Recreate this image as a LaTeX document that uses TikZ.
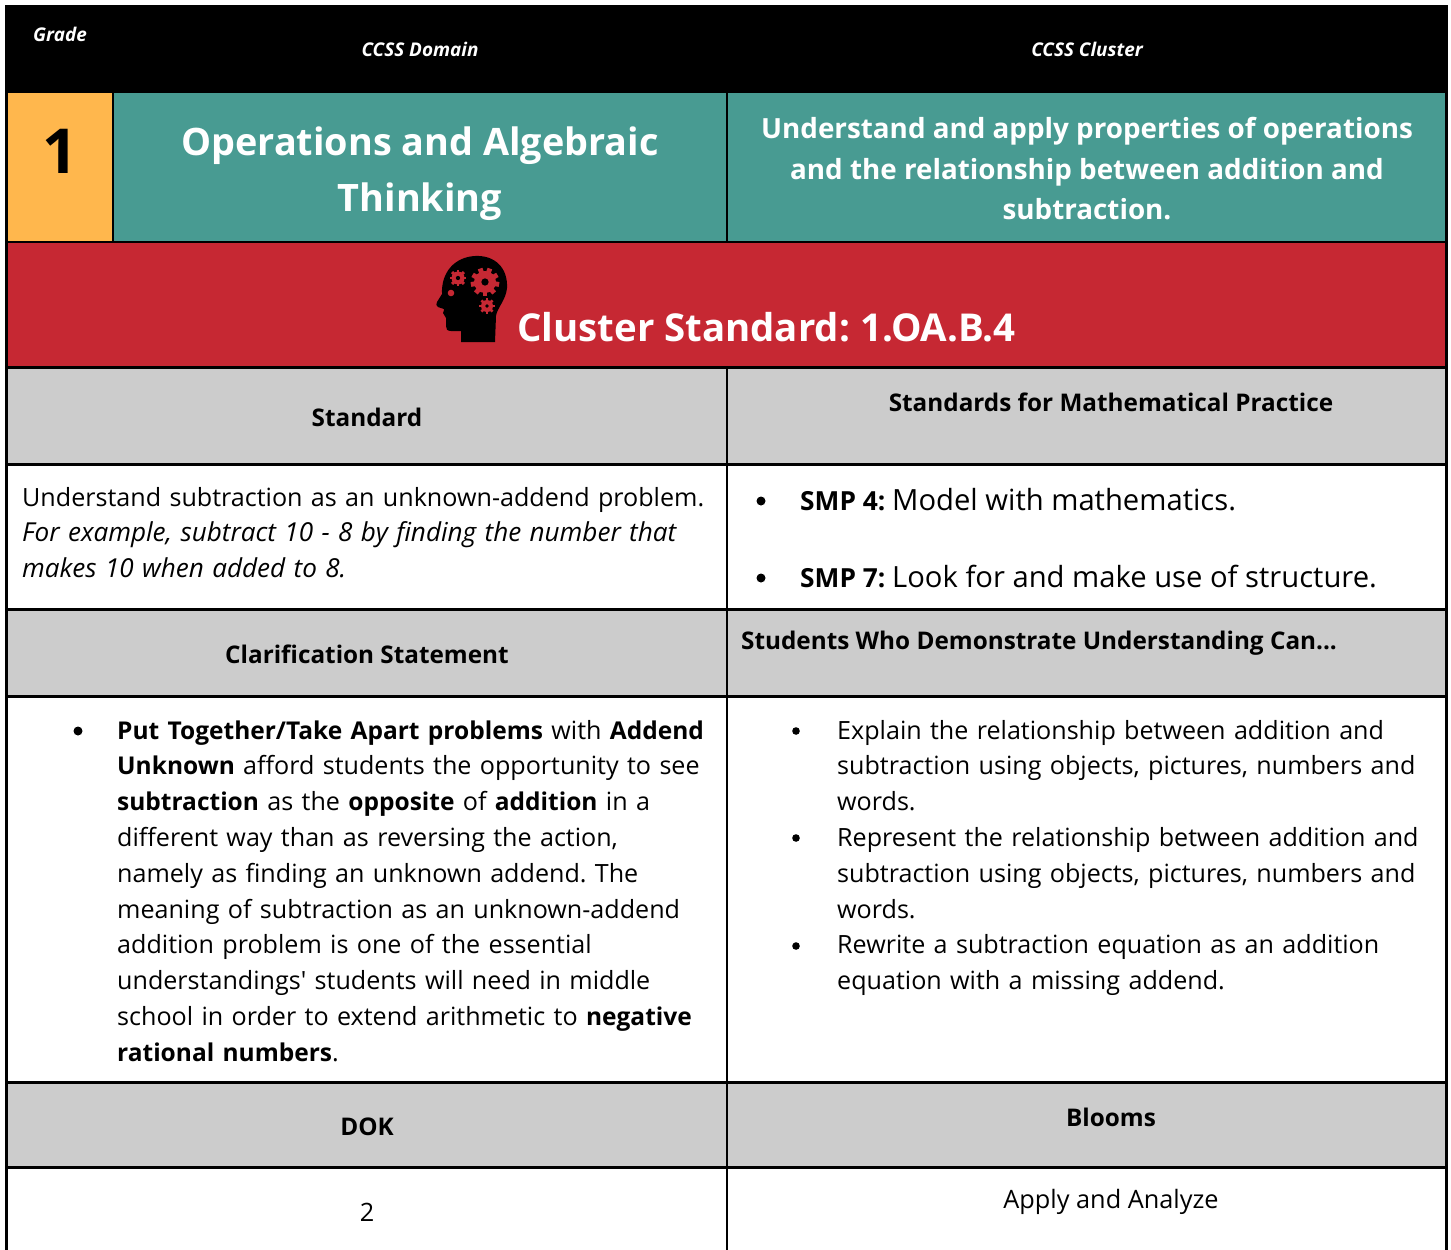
\documentclass[tikz,border=0pt]{standalone}
\usepackage{fontspec}
\setmainfont{Open Sans}
\definecolor{orangeC}{HTML}{FFB74D}
\definecolor{tealC}{HTML}{489B92}
\definecolor{redC}{HTML}{C62833}
\definecolor{grayC}{HTML}{CCCCCC}
\newcommand\fs[2]{\fontsize{#1}{#2}\selectfont}
\newcommand\bw[1]{{\fontsize{24.5}{35.8}\selectfont\bfseries #1}}
\newcommand\mygear[4]{%
  \begin{scope}[shift={(#1,#2)}]
    \foreach \k in {1,...,#4}{\fill[redC,rotate=\k*360/#4] (-0.22*#3,0) rectangle (0.22*#3,1.3*#3);}
    \fill[redC] (0,0) circle[radius=#3pt];
    \fill[black] (0,0) circle[radius=0.33*#3pt];
  \end{scope}}
\frenchspacing
\begin{document}
\frenchspacing
\begin{tikzpicture}[x=1pt,y=-1pt,
  hdr/.style={font=\fs{18.9}{22}\bfseries\itshape, text=white, inner sep=0},
  body/.style={font=\fs{25.1}{35.8}\frenchspacing, align=left, inner sep=0, anchor=base west, text width=#1},
  body/.default=700pt,
  ghead/.style={font=\fs{24.3}{28}\bfseries, inner sep=0},
  rulel/.style={line width=3pt, black},
  ruled/.style={line width=2pt, black},
  bul/.style={fill=black},
]
\useasboundingbox (0,0) rectangle (1451,1250);
\fill[white] (0,0) rectangle (1451,1250);
% backgrounds
\fill[black] (5,5) rectangle (1448,93);
\fill[orangeC] (7,93) rectangle (113,242);
\fill[tealC] (113,93) rectangle (1447,242);
\fill[redC] (7,242) rectangle (1447,367);
\fill[grayC] (7,367) rectangle (1447,464.5);
\fill[grayC] (7,609.5) rectangle (1447,696.5);
\fill[grayC] (7,1082.5) rectangle (1447,1167.5);
% rules
\draw[ruled] (5,242) -- (1448,242);
\draw[rulel] (5,367) -- (1448,367);
\draw[rulel] (5,464.5) -- (1448,464.5);
\draw[rulel] (5,609.5) -- (1448,609.5);
\draw[rulel] (5,696.5) -- (1448,696.5);
\draw[rulel] (5,1082.5) -- (1448,1082.5);
\draw[rulel] (5,1167.5) -- (1448,1167.5);
\draw[rulel] (6.5,93) -- (6.5,1250);
\draw[rulel] (1446.5,93) -- (1446.5,1250);
\draw[ruled] (113,93) -- (113,242);
\draw[ruled] (727,93) -- (727,242);
\draw[ruled] (727,367) -- (727,1250);
% header row
\node[hdr] (grade) at (60,34) {Grade};
\node[hdr] (domainlbl) at (420,49) {CCSS Domain};
\node[hdr] (clusterlbl) at (1087,49) {CCSS Cluster};
% teal row
\node[font=\fs{62}{70}\bfseries, inner sep=0] (gradenum) at (60,151) {1};
\node[font=\fs{37.8}{56}\bfseries, text=white, align=center, inner sep=0] (domain) at (420,174) {Operations and Algebraic\\Thinking};
\node[font=\fs{27.8}{40.5}\bfseries, text=white, align=center, inner sep=0] (cluster) at (1087,169) {Understand and apply properties of operations\\and the relationship between addition and\\subtraction.};
% red row icon
\fill[black] (461,342) -- (461,331) -- (451,331) .. controls (447,331) and (446,329) .. (446,326)
  -- (446,318) .. controls (446,316) and (443,315) .. (443,313) .. controls (443,311) and (445,310) .. (444,309)
  -- (438,307) .. controls (436,306) and (436,304) .. (437,302) -- (442,294)
  .. controls (441,272) and (455,257) .. (475,256) .. controls (495,255) and (508,268) .. (507,288)
  .. controls (506,300) and (497,308) .. (496,316) -- (495,342) -- cycle;
\mygear{458}{278}{6.5}{8}
\mygear{485}{282}{11}{9}
\mygear{487}{306}{6}{8}
\fill[redC] (451,293) circle[radius=3.3pt];
\node[font=\fs{38.4}{46}\bfseries, text=white, anchor=west, inner sep=0] (clusterstd) at (517,327) {Cluster Standard: 1.OA.B.4};
% gray row 1
\node[ghead] (stdhead) at (367,417) {Standard};
\node[ghead] (smphead) at (1111,402) {Standards for Mathematical Practice};
% white row 1
\node[body] (stdtext) at (22,506) {Understand subtraction as an unknown-addend problem.\\{\fs{26.1}{35.8}\itshape For example, subtract 10 - 8 by finding the number that\\makes 10 when added to 8.}};
\fill[bul] (761,501) circle[radius=4.5pt];
\fill[bul] (761,578) circle[radius=4.5pt];
\node[font=\fs{26.3}{30}, anchor=base west, inner sep=0] (smp4) at (800,510.5) {\textbf{SMP 4:} {\fs{29.2}{34}Model with mathematics.}};
\node[font=\fs{26.3}{30}, anchor=base west, inner sep=0] (smp7) at (800,587.5) {\textbf{SMP 7:} {\fs{29.2}{34}Look for and make use of structure.}};
% gray row 2
\node[ghead] (clarhead) at (367,654) {Clarification Statement};
\node[ghead, anchor=west] (sdhead) at (741,643) {Students Who Demonstrate Understanding Can...};
% white row 2
\fill[bul] (78,731) circle[radius=4.5pt];
\node[body=640pt] (clartext) at (117,739) {\bw{Put Together/Take Apart problems} with \bw{Addend}\\
\bw{Unknown} afford students the opportunity to see\\
\bw{subtraction} as the \bw{opposite} of \bw{addition} in a\\
different way than as reversing the action,\\
namely as finding an unknown addend. The\\
meaning of subtraction as an unknown-addend\\
addition problem is one of the essential\\
understandings\textquotesingle{} students will need in middle\\
school in order to extend arithmetic to \bw{negative}\\
\bw{rational numbers}.};
\fill[bul] (796,731) circle[radius=3.8pt];
\fill[bul] (796,838) circle[radius=3.8pt];
\fill[bul] (796,946) circle[radius=3.8pt];
\node[body=640pt] (sdtext) at (837,739) {Explain the relationship between addition and\\
subtraction using objects, pictures, numbers and\\
words.\\
Represent the relationship between addition and\\
subtraction using objects, pictures, numbers and\\
words.\\
Rewrite a subtraction equation as an addition\\
equation with a missing addend.};
% gray row 3
\node[ghead] (dokhead) at (367,1127) {DOK};
\node[ghead] (bloomshead) at (1111,1117) {Blooms};
% white row 3
\node[font=\fs{25.3}{28}, inner sep=0] (dok) at (367,1212) {2};
\node[font=\fs{25.3}{28}, inner sep=0] (blooms) at (1111,1202) {Apply and Analyze};
\end{tikzpicture}
\end{document}
